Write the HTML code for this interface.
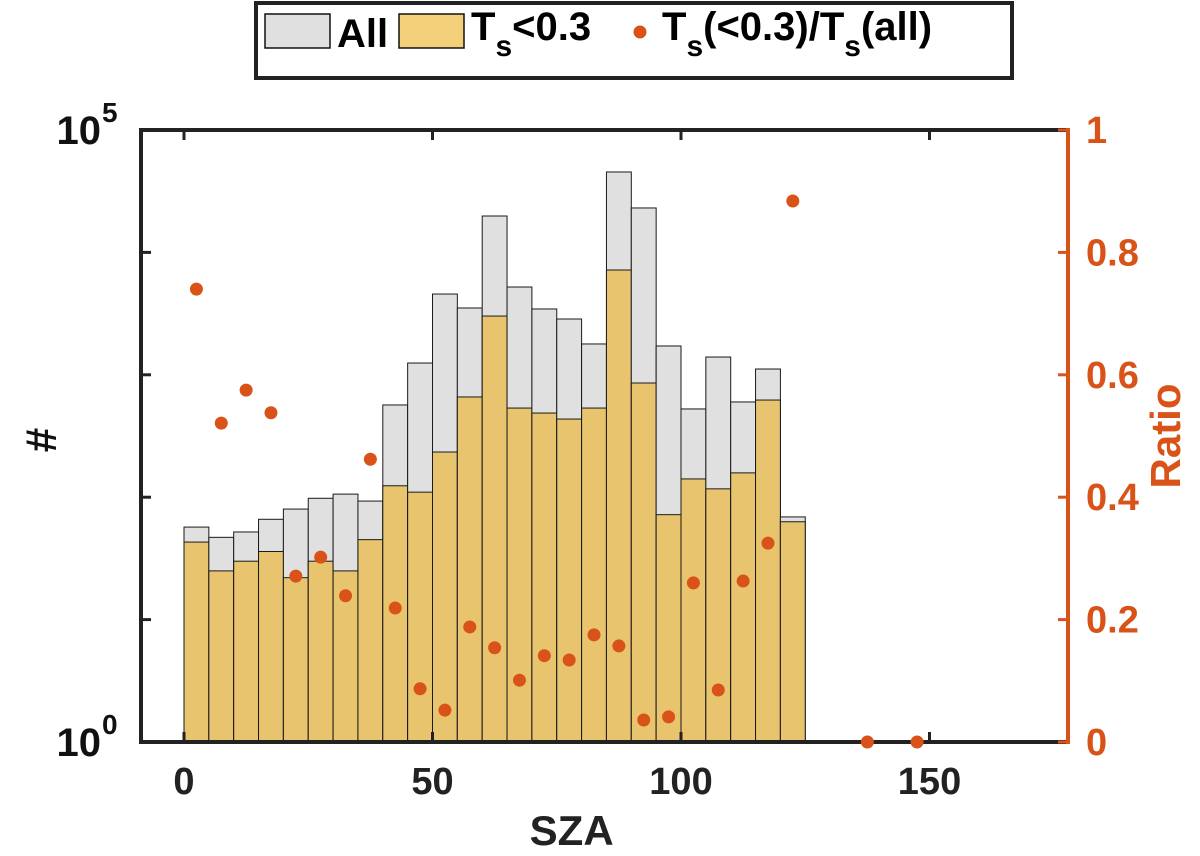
<!DOCTYPE html>
<html><head><meta charset="utf-8"><style>
body{margin:0;background:#fff;}
svg{display:block;font-family:"Liberation Sans",sans-serif;font-weight:bold;}
</style></head><body>
<svg id="c" width="1200" height="856" xmlns="http://www.w3.org/2000/svg"></svg>
<script>
const binStarts=[0,5,10,15,20,25,30,35,40,45,50,55,60,65,70,75,80,85,90,95,100,105,110,115,120];
const countsAll=[57,47,52,66,80,98,106,93,567,1248,4570,3515,19830,5215,3450,2857,1786,45400,23070,1720,526,1397,600,1115,69];
const countsLow=[43,25,30,36,22,30,25,45,124,110,234,659,3020,535,487,435,535,7180,857,72,141,117,158,622,63];
const ratioX=[2.5,7.5,12.5,17.5,22.5,27.5,32.5,37.5,42.5,47.5,52.5,57.5,62.5,67.5,72.5,77.5,82.5,87.5,92.5,97.5,102.5,107.5,112.5,117.5,122.5,137.5,147.5];
const ratioVals=[0.740,0.521,0.575,0.538,0.271,0.302,0.239,0.462,0.219,0.087,0.052,0.188,0.154,0.101,0.141,0.134,0.175,0.157,0.036,0.041,0.260,0.085,0.263,0.325,0.884,0,0];
const xTicks=[0,50,100,150];
const yExps=[0,1,2,3,4,5];
const rTicks=[0,0.2,0.4,0.6,0.8,1];
const rTickLabels=["0","0.2","0.4","0.6","0.8","1"];
const binW=5;

const L=141,R=1068,T=130,B=742;
const xs=v=>184+v*4.97;
const ys=c=>B-Math.log10(c)*(B-T)/5;
const yr=r=>B-r*(B-T);
const svg=document.getElementById('c');
const NS="http://www.w3.org/2000/svg";
function mk(tag,attrs,parent){const e=document.createElementNS(NS,tag);for(const k in attrs)e.setAttribute(k,attrs[k]);(parent||svg).appendChild(e);return e;}

binStarts.forEach((s,i)=>{
  const x0=xs(s),x1=xs(s+binW);
  let r=mk('rect',{x:x0,y:ys(countsAll[i]),width:x1-x0,height:B-ys(countsAll[i]),fill:'#e0e0e0',stroke:'#1a1a1a','stroke-width':1});
  
  
  let r2=mk('rect',{x:x0,y:ys(countsLow[i]),width:x1-x0,height:B-ys(countsLow[i]),fill:'#e8c46e',stroke:'#1a1a1a','stroke-width':1});
  
  
});
let ax=mk('path',{d:`M${R},${T}H${L}V${B}H${R}`,fill:'none',stroke:'#222','stroke-width':4});


let rax=mk('line',{x1:R,y1:T-2,x2:R,y2:B+2,stroke:'#d95319','stroke-width':4});


xTicks.forEach(v=>{
  mk('line',{x1:xs(v),y1:B,x2:xs(v),y2:B-10,stroke:'#222','stroke-width':3});
  mk('line',{x1:xs(v),y1:T,x2:xs(v),y2:T+10,stroke:'#222','stroke-width':3});
  let t=mk('text',{x:xs(v),y:B+52,'text-anchor':'middle','font-size':38,fill:'#222'});
  t.textContent=v;
  
  
});
yExps.forEach(e=>{
  const y=ys(Math.pow(10,e));
  mk('line',{x1:L,y1:y,x2:L+10,y2:y,stroke:'#222','stroke-width':3});
  if(e===0||e===5){
    let t=mk('text',{x:L-40,y:y+14,'text-anchor':'end','font-size':40,fill:'#111'});
    t.textContent='10';
    
    
    let s=mk('text',{x:L-39,y:y-8,'font-size':28,fill:'#111'});
    s.textContent=e;
  }
});
rTicks.forEach((r,i)=>{
  const y=yr(r);
  mk('line',{x1:R,y1:y,x2:R-10,y2:y,stroke:'#d95319','stroke-width':3});
  let t=mk('text',{x:R+18,y:y+13,'font-size':38,fill:'#d95319'});
  t.textContent=rTickLabels[i];
  
  
});
ratioX.forEach((x,i)=>{
  let c=mk('circle',{cx:xs(x),cy:yr(ratioVals[i]),r:6.5,fill:'#d95319'});
  
  
});
let xt=mk('text',{x:xs(78),y:845,'text-anchor':'middle','font-size':42,fill:'#222'});
xt.textContent='SZA';


let yt=mk('text',{x:0,y:0,'text-anchor':'middle','font-size':44,fill:'#111',transform:'translate(56,440) rotate(-90)'});
yt.textContent='#';


let rt=mk('text',{x:0,y:0,'text-anchor':'middle','font-size':42,fill:'#d95319',transform:'translate(1180,436) rotate(-90)'});
rt.textContent='Ratio';


const lg=mk('g',{});


mk('rect',{x:256,y:3,width:756,height:75,fill:'#fff',stroke:'#222','stroke-width':4},lg);
mk('rect',{x:265,y:14,width:65,height:34,fill:'#e0e0e0',stroke:'#111','stroke-width':1.5},lg);
let a=mk('text',{x:337,y:47,'font-size':40,fill:'#000'},lg);a.textContent='All';
mk('rect',{x:399,y:14,width:65,height:34,fill:'#f4d07a',stroke:'#111','stroke-width':1.5},lg);
let b=mk('text',{x:471,y:40,'font-size':40,fill:'#000'},lg);
b.innerHTML='T<tspan dy="16" font-size="30">s</tspan><tspan dy="-16">&lt;0.3</tspan>';
mk('circle',{cx:640,cy:32,r:6.5,fill:'#d95319'},lg);
let d=mk('text',{x:662,y:40,'font-size':40,fill:'#000'},lg);
d.innerHTML='T<tspan dy="16" font-size="30">s</tspan><tspan dy="-16">(&lt;0.3)/T</tspan><tspan dy="16" font-size="30">s</tspan><tspan dy="-16">(all)</tspan>';
</script>
</body></html>
